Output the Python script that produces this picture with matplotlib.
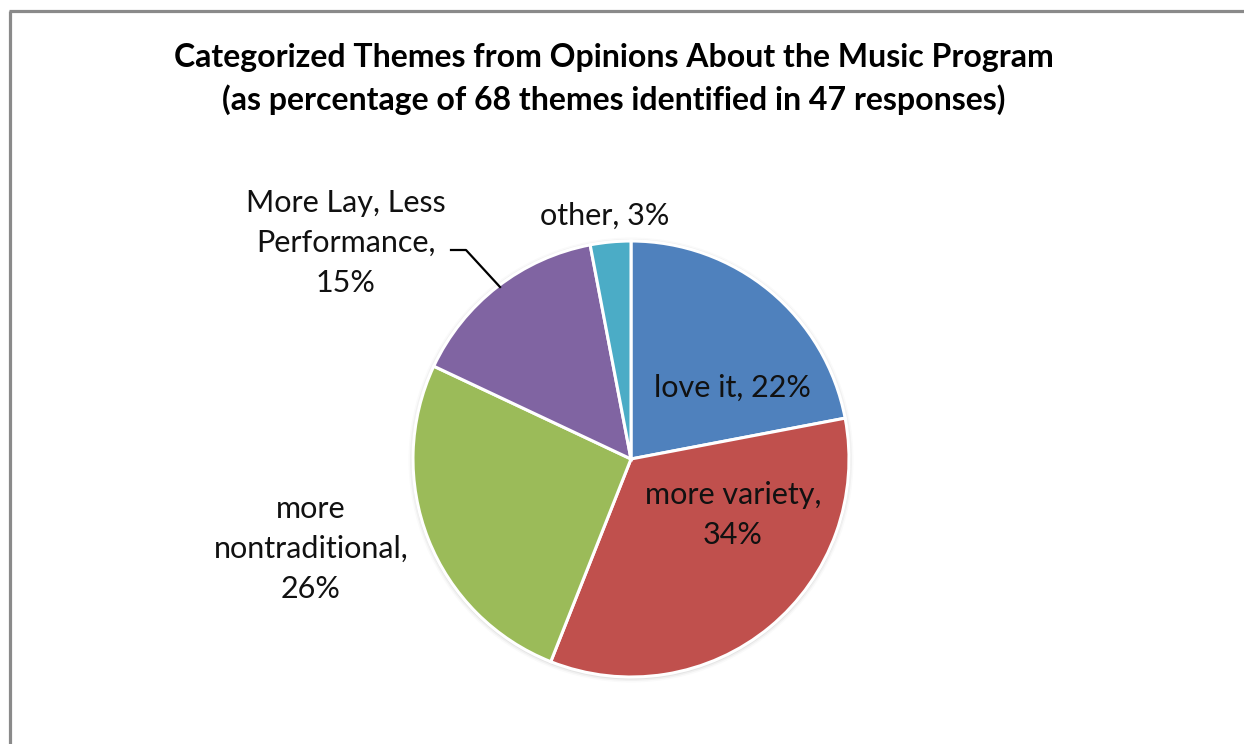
import matplotlib
matplotlib.use('Agg')
import matplotlib.pyplot as plt
from matplotlib.patches import Circle

plt.rcParams['font.family'] = ['Lato', 'DejaVu Sans']

# theme categories, clockwise from 12 o'clock
categories = ['love it', 'more variety', 'more\nnontraditional',
              'More Lay, Less\nPerformance', 'other']
percents = [22, 34, 26, 15, 3]
colors = ['#4F81BD', '#C0504D', '#9BBB59', '#8064A2', '#4BACC6']

W, H = 1244, 744
fig = plt.figure(figsize=(W / 100, H / 100), dpi=100)
ax = fig.add_axes([0, 0, 1, 1])
ax.set_xlim(0, W)
ax.set_ylim(0, H)
ax.set_aspect('equal')
ax.axis('off')

cx, cy, r = 631, H - 459, 218

# soft shadow round the pie
for k, a in enumerate([0.10, 0.07, 0.04]):
    ax.add_patch(Circle((cx, cy - 1), r + 1.5 + k * 1.5, facecolor='#808080',
                        edgecolor='none', alpha=a, zorder=1))

wedges, _ = ax.pie(percents, colors=colors, startangle=90, counterclock=False,
                   center=(cx, cy), radius=r,
                   wedgeprops=dict(edgecolor='white', linewidth=2.2))
for w in wedges:
    w.set_zorder(2)

ax.set_xlim(0, W)
ax.set_ylim(0, H)

# chart frame (top and left edges visible)
ax.plot([10, 10], [0, H - 11], color='#8a8a8a', lw=2.3, solid_capstyle='butt', zorder=5)
ax.plot([9, W], [H - 11, H - 11], color='#8a8a8a', lw=2.3, solid_capstyle='butt', zorder=5)

# title
ax.text(614, H - 57, 'Categorized Themes from Opinions About the Music Program',
        fontsize=23, fontweight='bold', ha='center', va='center', color='#000000')
ax.text(614, H - 100, '(as percentage of 68 themes identified in 47 responses)',
        fontsize=23, fontweight='bold', ha='center', va='center', color='#000000')

# data labels
lab = dict(fontsize=22, ha='center', va='center', color='#111111',
           linespacing=1.52, zorder=6)
labels = [f'{c}, {p}%' if i in (0, 4) else f'{c},\n{p}%'
          for i, (c, p) in enumerate(zip(categories, percents))]
ax.text(732, H - 388, labels[0], **lab)
ax.text(733, H - 515, labels[1], **lab)
ax.text(311, H - 549, labels[2], **lab)
ax.text(346, H - 243, labels[3], **lab)
ax.text(605, H - 216, labels[4], **lab)

# leader line for the purple slice
ax.plot([451, 466, 500], [H - 250, H - 250, H - 287], color='black', lw=1.6, zorder=6)

fig.savefig('out.png', dpi=100, facecolor='white')
plt.close()
